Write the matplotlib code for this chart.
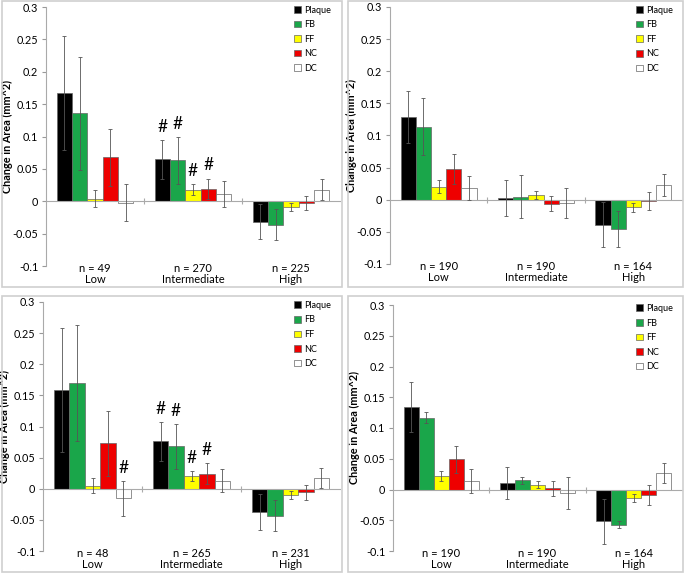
import numpy as np
import matplotlib
matplotlib.use('Agg')
import matplotlib.pyplot as plt
from matplotlib.patches import Rectangle, Patch
from matplotlib.ticker import FuncFormatter

plt.rcParams['font.family'] = ['Lato', 'DejaVu Sans']

categories = ['Low', 'Intermediate', 'High']
series = ['Plaque', 'FB', 'FF', 'NC', 'DC']
colors = ['#000000', '#1aa64a', '#ffff00', '#ee0000', '#ffffff']

# values: one row per series (Plaque, FB, FF, NC, DC), columns Low / Intermediate / High
tl_vals = [[0.167, 0.065, -0.032],
           [0.136, 0.063, -0.036],
           [0.004, 0.018, -0.009],
           [0.068, 0.019, -0.003],
           [-0.002, 0.011, 0.018]]
tl_errs = [[0.088, 0.030, 0.027],
           [0.087, 0.036, 0.024],
           [0.013, 0.008, 0.006],
           [0.044, 0.016, 0.011],
           [0.028, 0.020, 0.016]]
tl_n = [49, 270, 225]
tl_hash = [(0, 1), (1, 1), (2, 1), (3, 1)]  # (series, category)

tr_vals = [[0.129, 0.002, -0.039],
           [0.114, 0.005, -0.045],
           [0.020, 0.007, -0.012],
           [0.048, -0.006, -0.002],
           [0.018, -0.005, 0.023]]
tr_errs = [[0.041, 0.028, 0.035],
           [0.045, 0.034, 0.028],
           [0.010, 0.006, 0.007],
           [0.023, 0.012, 0.014],
           [0.019, 0.024, 0.017]]
tr_n = [190, 190, 164]
tr_hash = []

bl_vals = [[0.159, 0.076, -0.037],
           [0.170, 0.068, -0.043],
           [0.005, 0.020, -0.010],
           [0.073, 0.024, -0.006],
           [-0.015, 0.013, 0.018]]
bl_errs = [[0.100, 0.031, 0.029],
           [0.093, 0.036, 0.025],
           [0.012, 0.008, 0.006],
           [0.052, 0.017, 0.012],
           [0.028, 0.019, 0.016]]
bl_n = [48, 265, 231]
bl_hash = [(4, 0), (0, 1), (1, 1), (2, 1), (3, 1)]

br_vals = [[0.134, 0.010, -0.052],
           [0.117, 0.015, -0.057],
           [0.022, 0.008, -0.014],
           [0.049, 0.002, -0.009],
           [0.014, -0.006, 0.027]]
br_errs = [[0.041, 0.026, 0.036],
           [0.009, 0.006, 0.006],
           [0.008, 0.006, 0.007],
           [0.022, 0.012, 0.016],
           [0.019, 0.026, 0.016]]
br_n = [190, 190, 164]
br_hash = []

W, H = 685, 575
fig = plt.figure(figsize=(W / 100, H / 100), dpi=100)

# panel frames (pixels: x0, y0, x1, y1)
frames = [(2, 1, 342, 287), (348, 1, 683, 287), (2, 296, 342, 572), (348, 296, 683, 572)]
for x0, y0, x1, y1 in frames:
    fig.patches.append(Rectangle((x0 / W, 1 - y1 / H), (x1 - x0) / W, (y1 - y0) / H,
                                 transform=fig.transFigure, fill=False,
                                 edgecolor='#cfcfcf', linewidth=1.2))

# axes boxes (pixels: left, right, top(0.3), bottom(-0.1))
boxes = [(46, 340, 7, 266), (390, 682, 7, 264), (43, 340, 302, 551), (393, 682, 305, 551)]
panels = [(tl_vals, tl_errs, tl_n, tl_hash),
          (tr_vals, tr_errs, tr_n, tr_hash),
          (bl_vals, bl_errs, bl_n, bl_hash),
          (br_vals, br_errs, br_n, br_hash)]

bw = 0.156
x = np.arange(len(categories))

for (l, r, t, b), (vals, errs, ns, hashes) in zip(boxes, panels):
    ax = fig.add_axes([l / W, 1 - b / H, (r - l) / W, (b - t) / H])
    for i, s in enumerate(series):
        xs = x + (i - 2) * bw
        ax.bar(xs, vals[i], bw, color=colors[i], edgecolor='#666666', linewidth=0.5,
               label=s, zorder=2)
        ax.errorbar(xs, vals[i], yerr=errs[i], fmt='none', ecolor='#555555',
                    elinewidth=0.6, capsize=1.5, capthick=0.6, zorder=3)
    for i, c in hashes:
        ax.text(x[c] + (i - 2) * bw, vals[i][c] + errs[i][c] + 0.008, '#',
                ha='center', va='bottom', fontsize=12.5)

    ax.set_xlim(-0.5, 2.5)
    ax.set_ylim(-0.1, 0.3)
    ax.set_yticks(np.arange(-0.1, 0.31, 0.05))
    ax.yaxis.set_major_formatter(FuncFormatter(lambda v, p: '%g' % round(v, 2)))
    ax.tick_params(axis='y', labelsize=7.8, length=3, color='#999999', direction='out', pad=2.5)
    ax.set_ylabel('Change in Area (mm^2)', fontsize=7.8, fontweight='bold')
    ax.yaxis.set_label_coords(-33.0 / (r - l), 0.5)

    for sp in ['top', 'right']:
        ax.spines[sp].set_visible(False)
    ax.spines['left'].set_color('#aaaaaa')
    ax.spines['bottom'].set_position(('data', 0))
    ax.spines['bottom'].set_color('#aaaaaa')
    ax.set_xticks([0.5, 1.5])
    ax.set_xticklabels([])
    ax.tick_params(axis='x', direction='inout', length=5, color='#aaaaaa')

    for c, cat in enumerate(categories):
        ax.annotate('n = %d\n%s' % (ns[c], cat), (x[c], 0), xycoords=ax.get_xaxis_transform(),
                    xytext=(0, 3), textcoords='offset pixels',
                    ha='center', va='top', fontsize=8, linespacing=1.05)

    handles = [Patch(facecolor=colors[i], edgecolor='#666666', linewidth=0.5) for i in range(5)]
    ax.legend(handles, series, loc='upper right', bbox_to_anchor=(0.99, 1.03), frameon=False,
              fontsize=6.5, handlelength=0.75, handleheight=0.75, handletextpad=0.3,
              labelspacing=0.62, borderaxespad=0.3)

fig.savefig('out.png', dpi=100)
